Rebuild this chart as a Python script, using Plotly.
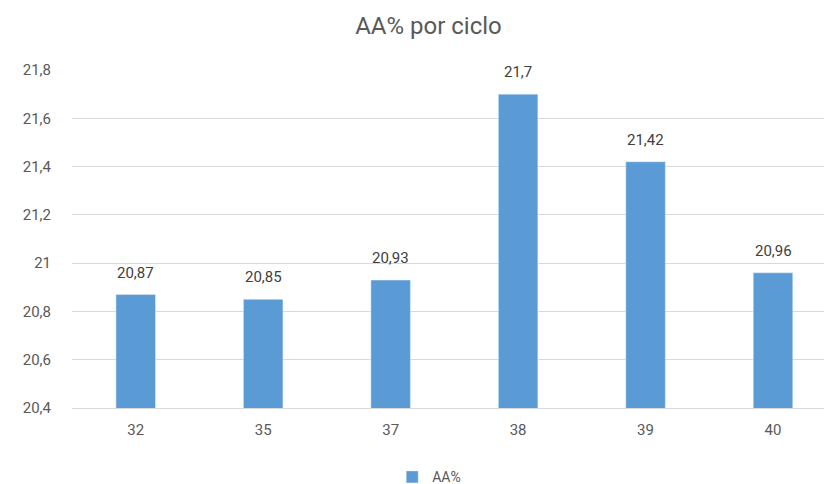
import plotly.graph_objects as go

categories = ["32", "35", "37", "38", "39", "40"]
values = [20.87, 20.85, 20.93, 21.7, 21.42, 20.96]
labels = ["20,87", "20,85", "20,93", "21,7", "21,42", "20,96"]
tick_vals = [20.4, 20.6, 20.8, 21.0, 21.2, 21.4, 21.6, 21.8]
tick_text = ["20,4", "20,6", "20,8", "21", "21,2", "21,4", "21,6", "21,8"]

fig = go.Figure()
fig.add_trace(go.Bar(
    x=categories, y=values, name="AA%",
    marker=dict(color="#5B9BD5"),
    width=0.31,
))

for i, (v, t) in enumerate(zip(values, labels)):
    fig.add_annotation(x=i, y=v, xref="x", yref="y", text=t, showarrow=False,
                       yanchor="bottom", yshift=11,
                       font=dict(color="#404040", size=15, family="Roboto"))

fig.update_layout(
    width=824, height=484,
    paper_bgcolor="white", plot_bgcolor="white",
    margin=dict(l=72, r=0, t=70, b=76, autoexpand=False),
    title=dict(text="AA% por ciclo", x=0.52, xanchor="center", y=0.948, yanchor="middle",
               font=dict(size=24, color="#595959", family="Roboto")),
    font=dict(family="Roboto", color="#595959", size=14),
    showlegend=True,
    legend=dict(orientation="h", x=0.475, xanchor="center", y=-0.205, yanchor="middle",
                font=dict(size=14, color="#595959"), itemwidth=30),
    xaxis=dict(type="category", categoryorder="array", categoryarray=categories,
               range=[-0.5, 5.4], showgrid=False, showline=True, automargin=False,
               linecolor="#D9D9D9", ticks="", tickfont=dict(size=15, color="#595959"),
               ticklabelstandoff=8),
    yaxis=dict(range=[20.4, 21.8], tickvals=tick_vals, ticktext=tick_text, automargin=False,
               showgrid=True, gridcolor="#D9D9D9", zeroline=False, ticks="",
               tickfont=dict(size=15, color="#595959"), ticklabelstandoff=20),
    bargap=0.7,
)

fig.write_html("out.html")
